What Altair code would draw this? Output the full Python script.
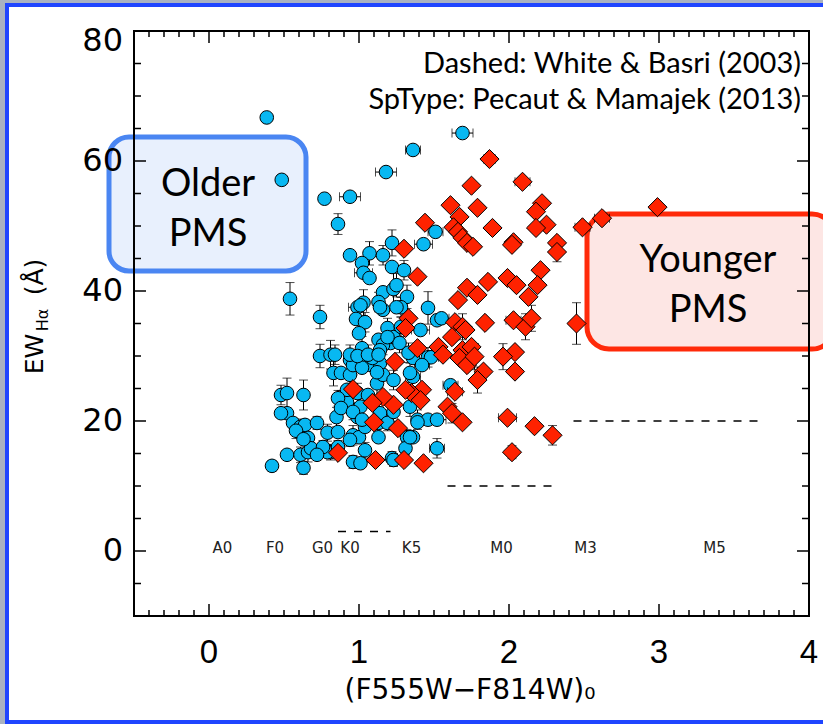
import altair as alt
import pandas as pd

# ---------------- data ----------------
blue_x = [0.385, 0.485, 0.54, 0.77, 0.94, 0.86, 1.18, 1.36, 1.69, 0.74, 1.43, 1.51,
          0.94, 1.07, 1.02, 1.03, 1.16, 1.22, 1.22, 1.30, 1.16, 1.23, 1.32, 1.13, 1.16,
          0.99, 1.03, 0.98, 1.04, 1.00, 1.46, 1.52, 1.19, 1.13, 1.02, 0.74, 0.81, 0.84,
          1.41, 1.46, 0.48, 0.52, 0.63, 0.52, 0.56, 0.61, 0.64, 0.72, 0.66, 0.42, 0.52,
          0.61, 0.66, 0.68, 0.63, 0.79, 0.86, 0.85, 0.78, 0.81, 0.88, 0.92, 0.83, 0.88,
          0.94, 0.96, 1.01, 0.96, 1.00, 1.04, 0.99, 1.12, 1.16, 1.23, 1.36, 1.39, 1.32,
          1.36, 1.31, 1.22, 1.04, 1.13, 1.52, 1.46, 1.01, 1.14, 1.28, 1.55, 0.94, 1.01,
          1.08, 1.14, 1.21, 1.34, 1.36, 1.48, 1.61, 1.01, 1.14, 1.19, 1.34, 1.39, 1.52,
          1.34, 1.23, 0.79, 0.76, 1.07,
          1.16, 1.23, 1.28, 1.14, 1.09, 0.96, 1.02, 1.12, 0.92, 0.99, 1.06, 0.86, 0.88,
          0.96, 1.02, 1.23, 0.94, 1.13, 0.86, 0.72, 0.48, 0.58, 0.63, 1.25, 1.25, 1.27,
          1.19, 0.94, 0.99, 1.06, 1.13, 1.33, 1.42]
blue_y = [66.7, 57.1, 38.8, 54.2, 54.5, 50.3, 58.3, 61.7, 64.3, 36.0, 47.2, 49.1,
          45.5, 45.8, 44.3, 42.8, 45.5, 47.4, 43.7, 43.2, 39.8, 40.3, 39.1, 38.3, 37.1,
          37.5, 38.2, 35.7, 35.2, 33.5, 37.4, 35.5, 34.3, 32.5, 31.2, 30.0, 30.2, 30.2,
          34.0, 29.8, 24.0, 24.3, 24.0, 21.2, 19.7, 19.1, 19.4, 19.7, 17.4, 13.1, 14.8,
          14.8, 15.2, 15.8, 12.8, 18.2, 18.3, 20.6, 15.5, 15.2, 23.2, 22.9, 27.4, 27.4,
          27.1, 13.7, 13.5, 17.8, 17.5, 15.5, 20.6, 25.8, 27.1, 26.3, 26.8, 20.2, 17.5,
          17.5, 15.8, 14.3, 19.1, 19.7, 15.8, 20.2, 37.8, 37.5, 37.5, 35.8, 29.4, 29.4,
          28.6, 28.9, 32.0, 27.4, 29.7, 29.8, 25.5, 22.2, 21.2, 19.7, 22.2, 19.8, 20.2,
          17.5, 14.0, 15.2, 16.0, 42.0,
          31.7, 32.9, 34.5, 30.9, 29.7, 28.6, 28.2, 27.5, 24.8, 24.3, 24.0, 23.5, 22.0,
          21.4, 20.2, 21.4, 17.1, 17.5, 16.0, 14.8, 21.2, 18.5, 17.2, 40.9, 37.5, 32.0,
          32.9, 30.2, 30.0, 30.2, 30.2, 30.5, 28.6]
blue_xerr = [0, 0, 0, 0, 0.07, 0, 0.07, 0.05, 0.07, 0, 0.06, 0.05,
             0, 0, 0, 0.06, 0, 0, 0, 0, 0, 0, 0, 0, 0,
             0.06, 0, 0, 0, 0, 0, 0, 0, 0, 0, 0, 0, 0,
             0.06, 0, 0, 0, 0, 0, 0, 0, 0, 0, 0, 0, 0,
             0, 0, 0, 0, 0, 0, 0, 0, 0, 0, 0, 0, 0,
             0, 0, 0, 0, 0, 0, 0, 0, 0, 0, 0.05, 0, 0,
             0, 0, 0, 0, 0, 0.05, 0.05, 0, 0, 0, 0.05, 0, 0,
             0, 0, 0, 0, 0, 0.05, 0.05, 0, 0, 0, 0, 0, 0.06,
             0, 0, 0, 0, 0,
             0, 0, 0, 0, 0, 0, 0, 0, 0, 0, 0, 0, 0,
             0, 0, 0, 0, 0, 0, 0, 0, 0, 0, 0, 0, 0,
             0, 0, 0, 0, 0, 0, 0.05]
blue_yerr = [0, 0, 2.5, 0, 0, 1.6, 0, 0, 0, 1.8, 0, 0,
             0, 1.8, 0, 0, 1.5, 2.0, 0, 1.5, 0, 2.5, 1.8, 1.5, 0,
             0, 2.0, 0, 1.5, 0, 2.5, 0, 1.5, 0, 1.8, 1.8, 2.2, 1.5,
             0, 1.5, 1.5, 2.3, 2.3, 0, 0, 1.2, 0, 1.0, 0, 0.8, 0,
             1.2, 1.5, 0, 1.0, 1.3, 0, 1.5, 0, 1.2, 1.5, 0, 2.0, 0,
             1.5, 1.0, 0, 1.5, 0, 1.2, 0, 2.0, 0, 1.5, 0, 1.5, 1.2,
             0, 1.0, 1.0, 0, 1.5, 1.5, 0, 0, 0, 1.5, 0, 0, 1.5,
             0, 1.2, 0, 1.5, 0, 0, 0, 1.5, 0, 1.2, 1.5, 0, 0,
             0, 1.0, 0, 1.0, 0,
             1.5, 0, 1.5, 0, 1.2, 1.5, 0, 1.5, 0, 1.5, 0, 1.2, 0,
             1.2, 0, 1.5, 1.0, 0, 1.0, 0, 0, 1.2, 0, 1.8, 0, 1.5,
             0, 1.5, 0, 1.5, 0, 1.5, 0]

red_x = [1.87, 2.09, 1.75, 1.61, 1.79, 2.22, 2.18, 1.67, 1.44, 1.89, 2.25, 2.18,
         1.63, 1.66, 1.69, 1.72, 1.76, 2.03, 2.02, 2.32, 2.32, 1.30, 1.39, 2.21,
         1.86, 1.99, 2.05, 2.13, 2.19, 1.72, 1.66, 1.79, 1.84, 2.03, 2.11, 2.15,
         1.64, 1.69, 2.45, 2.49, 2.62, 2.99, 2.04, 1.96, 2.04, 1.71, 1.53, 1.56,
         1.62, 1.69, 1.75, 1.67, 1.72, 1.77, 1.83, 1.79, 1.33, 1.31, 1.39, 1.24,
         1.42, 1.35, 1.41, 1.23, 1.16, 1.64, 1.59, 1.62, 1.69, 1.26, 1.30, 1.43,
         1.99, 2.17, 2.29, 2.02, 0.96, 1.09, 1.10, 0.86, 1.11, 1.31]
red_y = [60.3, 56.8, 56.2, 53.2, 52.8, 53.5, 52.2, 51.4, 50.5, 49.7, 50.2, 49.7,
         49.8, 49.1, 48.2, 47.4, 46.8, 47.5, 47.1, 47.4, 46.0, 46.5, 42.2, 43.2,
         41.4, 42.0, 40.9, 39.1, 40.9, 40.5, 38.6, 39.4, 35.1, 35.5, 34.5, 35.8,
         35.2, 34.5, 35.0, 49.8, 51.2, 52.9, 30.6, 29.9, 27.6, 34.0, 31.4, 30.2,
         32.9, 30.9, 31.4, 29.7, 28.6, 29.9, 27.6, 26.3, 35.8, 34.3, 31.2, 29.1,
         24.8, 24.3, 23.2, 22.5, 23.7, 24.5, 22.2, 21.2, 19.8, 18.9, 14.0, 13.5,
         20.5, 19.2, 17.8, 15.2, 24.9, 22.8, 19.8, 15.1, 14.0, 24.8]
red_xerr = [0.04, 0.05, 0, 0, 0, 0, 0, 0, 0, 0, 0, 0,
            0, 0, 0, 0, 0, 0, 0, 0, 0, 0, 0, 0,
            0, 0, 0, 0, 0, 0, 0, 0, 0, 0.05, 0, 0,
            0, 0, 0, 0.05, 0.05, 0, 0, 0, 0, 0, 0, 0,
            0, 0, 0, 0, 0, 0, 0, 0, 0, 0, 0, 0,
            0, 0, 0, 0, 0, 0.05, 0, 0, 0, 0, 0, 0,
            0.06, 0, 0, 0, 0, 0, 0, 0, 0, 0]
red_yerr = [0, 0, 0, 0, 0, 0, 0, 0, 0, 0, 0, 0,
            0, 0, 0, 0, 0, 0, 0, 0, 1.5, 0, 0, 0,
            0, 0, 0, 0, 0, 0, 0, 0, 0, 0, 2.0, 2.0,
            0, 2.0, 3.2, 0, 0, 0, 0, 2.0, 0, 0, 0, 0,
            0, 0, 0, 0, 0, 2.0, 0, 2.0, 0, 0, 0, 0,
            0, 0, 0, 0, 0, 0, 0, 1.5, 0, 0, 0, 0,
            0, 0, 1.5, 1.0, 0, 0, 0, 0, 0, 0]

sp_labels = ["A0", "F0", "G0", "K0", "K5", "M0", "M3", "M5"]
sp_x = [0.09, 0.44, 0.757, 0.94, 1.35, 1.95, 2.51, 3.37]

wb_x1 = [0.86, 1.59, 2.43]
wb_x2 = [1.21, 2.29, 3.70]
wb_y = [3, 10, 20]

x_tick_values = [0, 1, 2, 3, 4]
x_tick_labels = ["0", "1", "2", "3", "4"]
y_tick_values = [0, 20, 40, 60]
y_tick_labels = ["0", "20", "40", "60"]
y_top_value = [80]
y_top_label = ["80"]
x_minor = [round(-0.4 + 0.1 * i, 1) for i in range(44)]
x_minor = [v for v in x_minor if abs(v - round(v)) > 1e-6]
y_major = [0, 20, 40, 60]
y_minor = [-5, 5, 10, 15, 25, 30, 35, 45, 50, 55, 65, 70, 75]

# ---------------- layout ----------------
W, H = 675, 585
xs = alt.Scale(domain=[-0.5, 4], nice=False, zero=False)
ys = alt.Scale(domain=[-10, 80], nice=False, zero=False)
FONT = "DejaVu Sans"
ANN_FONT = "Lato"


def X(f):
    return alt.X(f, type="quantitative", scale=xs, axis=None)


def Y(f):
    return alt.Y(f, type="quantitative", scale=ys, axis=None)


blue = pd.DataFrame({"x": blue_x, "y": blue_y, "xerr": blue_xerr, "yerr": blue_yerr})
red = pd.DataFrame({"x": red_x, "y": red_y, "xerr": red_xerr, "yerr": red_yerr})
one = pd.DataFrame({"a": [0]})


def errbars(df):
    ye = df[df.yerr > 0].copy()
    ye["lo"] = ye.y - ye.yerr
    ye["hi"] = ye.y + ye.yerr
    xe = df[df.xerr > 0].copy()
    xe["lo"] = xe.x - xe.xerr
    xe["hi"] = xe.x + xe.xerr
    return [
        alt.Chart(ye).mark_rule(color="black", strokeWidth=1).encode(x=X("x"), y=Y("lo"), y2="hi"),
        alt.Chart(ye).mark_tick(color="black", orient="horizontal", size=9, thickness=1).encode(x=X("x"), y=Y("lo")),
        alt.Chart(ye).mark_tick(color="black", orient="horizontal", size=9, thickness=1).encode(x=X("x"), y=Y("hi")),
        alt.Chart(xe).mark_rule(color="black", strokeWidth=1).encode(y=Y("y"), x=X("lo"), x2="hi"),
        alt.Chart(xe).mark_tick(color="black", orient="vertical", size=9, thickness=1).encode(y=Y("y"), x=X("lo")),
        alt.Chart(xe).mark_tick(color="black", orient="vertical", size=9, thickness=1).encode(y=Y("y"), x=X("hi")),
    ]


panel = alt.Chart(one).mark_rect(fill="white", stroke="#1f45ff", strokeWidth=4).encode(
    x=alt.value(-127), x2=alt.value(720), y=alt.value(-26), y2=alt.value(691))

sp = alt.Chart(pd.DataFrame({"lab": sp_labels, "x": sp_x, "y": [0.4] * len(sp_x)})).mark_text(
    font=FONT, fontSize=15, color="#222222").encode(x=X("x"), y=Y("y"), text="lab:N")

wb = alt.Chart(pd.DataFrame({"x1": wb_x1, "x2": wb_x2, "y": wb_y})).mark_rule(
    color="black", strokeWidth=1.5, strokeDash=[8, 8]).encode(x=X("x1"), x2="x2", y=Y("y"))

blue_pts = alt.Chart(blue).mark_point(
    shape="circle", filled=True, fill="#08b8f2", stroke="black", strokeWidth=1, size=185, opacity=1
).encode(x=X("x"), y=Y("y"))

red_pts = alt.Chart(red).mark_point(
    shape="diamond", filled=True, fill="#ff2200", stroke="black", strokeWidth=1, size=365, opacity=1
).encode(x=X("x"), y=Y("y"))

# tick labels
xlab = alt.Chart(pd.DataFrame({"v": x_tick_values, "t": x_tick_labels})).mark_text(
    font="Liberation Sans", fontSize=33, baseline="middle", align="center", color="black").encode(
    x=X("v"), y=alt.value(H + 37), text="t:N")
ylab = alt.Chart(pd.DataFrame({"v": y_tick_values, "t": y_tick_labels})).mark_text(
    font=FONT, fontSize=32, baseline="middle", align="right", color="black").encode(
    y=Y("v"), x=alt.value(-11), text="t:N")
ylab_top = alt.Chart(pd.DataFrame({"v": y_top_value, "t": y_top_label})).mark_text(
    font=FONT, fontSize=32, baseline="middle", align="right", color="black", dy=10).encode(
    y=Y("v"), x=alt.value(-11), text="t:N")


def xticks(vals, length):
    d = pd.DataFrame({"v": vals})
    return [
        alt.Chart(d).mark_rule(color="black", strokeWidth=1.5).encode(x=X("v"), y=alt.value(H), y2=alt.value(H - length)),
        alt.Chart(d).mark_rule(color="black", strokeWidth=1.5).encode(x=X("v"), y=alt.value(0), y2=alt.value(length)),
    ]


def yticks(vals, length):
    d = pd.DataFrame({"v": vals})
    return [
        alt.Chart(d).mark_rule(color="black", strokeWidth=1.5).encode(y=Y("v"), x=alt.value(0), x2=alt.value(length)),
        alt.Chart(d).mark_rule(color="black", strokeWidth=1.5).encode(y=Y("v"), x=alt.value(W), x2=alt.value(W - length)),
    ]


frame = alt.Chart(one).mark_rect(fillOpacity=0, stroke="black", strokeWidth=2).encode(
    x=alt.value(0), x2=alt.value(W), y=alt.value(0), y2=alt.value(H))

older_box = alt.Chart(one).mark_rect(
    fill="#d6e4fb", fillOpacity=0.55, stroke="#4a86f2", strokeWidth=5, cornerRadius=20).encode(
    x=alt.value(-25), x2=alt.value(172), y=alt.value(106), y2=alt.value(240))
younger_box = alt.Chart(one).mark_rect(
    fill="#fde3e1", fillOpacity=0.9, stroke="#ff2a0a", strokeWidth=5, cornerRadius=22).encode(
    x=alt.value(453), x2=alt.value(700), y=alt.value(183), y2=alt.value(318))


def txt(s, x, y, size, font=ANN_FONT, align="center", angle=0, color="black"):
    kw = dict(text=s, font=font, fontSize=size, align=align, baseline="middle", color=color)
    if angle:
        kw["angle"] = angle
    return alt.Chart(one).mark_text(**kw).encode(x=alt.value(x), y=alt.value(y))


texts = [
    txt("Older", 74, 154, 38), txt("PMS", 74, 204, 38),
    txt("Younger", 574, 230, 38), txt("PMS", 574, 280, 38),
    txt("Dashed: White & Basri (2003)", 667, 33, 29, align="right"),
    txt("SpType: Pecaut & Mamajek (2013)", 667, 69, 29, align="right"),
    txt("EW", -99, 323, 25, font=FONT, angle=270),
    txt("Hα", -91, 289, 16, font=FONT, angle=270),
    txt("(Å)", -99, 246, 25, font=FONT, angle=270),
    txt("(F555W−F814W)₀", 336, 660, 28, font=FONT),
]

layers = [panel, older_box, younger_box, sp, wb]
layers += xticks(x_tick_values, 12) + xticks(x_minor, 6) + yticks(y_major, 12) + yticks(y_minor, 7)
layers += errbars(blue) + [blue_pts] + errbars(red) + [red_pts]
layers += [frame, xlab, ylab, ylab_top] + texts

chart = alt.layer(*layers).properties(
    width=W, height=H,
    padding={"left": 134, "top": 31, "right": 14, "bottom": 108},
    autosize=alt.AutoSizeParams(type="none"),
).configure_view(strokeWidth=0).configure(background="#a9b2c1")

chart.save("out.html", embed_options={"renderer": "svg", "actions": False})
